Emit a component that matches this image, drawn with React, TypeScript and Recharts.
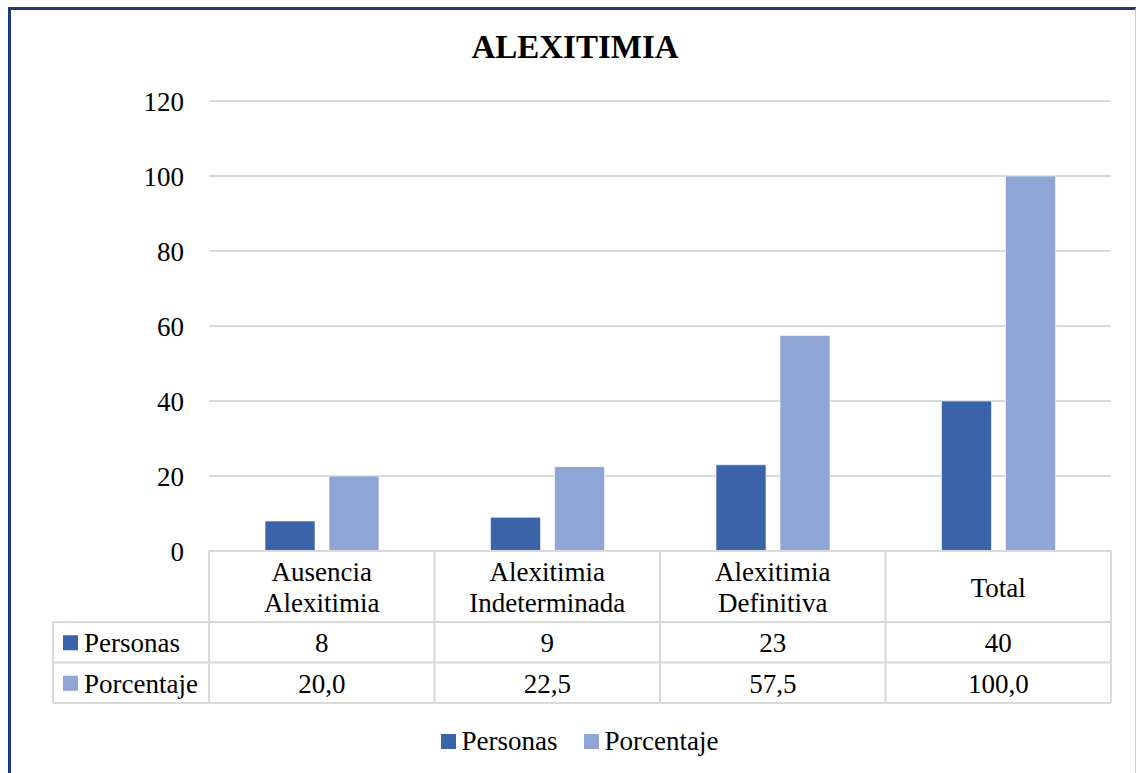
import React from 'react';
import { BarChart, Bar, XAxis, YAxis, CartesianGrid, Legend } from 'recharts';

const categories = ['Ausencia\nAlexitimia', 'Alexitimia\nIndeterminada', 'Alexitimia\nDefinitiva', 'Total'];
const personas = [8, 9, 23, 40];
const porcentaje = [20.0, 22.5, 57.5, 100.0];
const yTicks = [0, 20, 40, 60, 80, 100, 120];

const seriesNames = ['Personas', 'Porcentaje'];
const COLORS = ['#3A63AA', '#8FA5D5'];

const FONT = "'Times New Roman', 'Liberation Serif', Times, 'DejaVu Serif', serif";
const GRID = '#D9D9D9';

const W = 1139;
const H = 773;
const MARGIN = { top: 101, right: 28, left: 0, bottom: 17 };
const Y_AXIS_W = 209;

// data table under the plot: header row, then one row per series
const HEAD_H = 71;
const ROW_H = 40.5;
const KEY_COL_W = 156;

const fmtPct = (v: number) => v.toFixed(1).replace('.', ',');

const data = categories.map((name, i) => ({
  name,
  Personas: personas[i],
  Porcentaje: porcentaje[i],
}));

const rowValues = [personas.map((v) => String(v)), porcentaje.map(fmtPct)];

const TableTick = (props: any) => {
  const { x, y, payload } = props;
  const idx: number = payload.index ?? props.index ?? 0;
  const half: number =
    payload.offset || (W - MARGIN.right - MARGIN.left - Y_AXIS_W) / categories.length / 2;
  const left = x - half;
  const right = x + half;
  const lines = String(payload.value).split('\n');
  const headMid = y + HEAD_H / 2 + 1;
  const lineGap = 31;
  const txt = { fontFamily: FONT, fontSize: 27, fill: '#000' };

  return (
    <g>
      {/* header cell */}
      <line x1={left} y1={y} x2={right} y2={y} stroke={GRID} strokeWidth={2} />
      <line x1={right} y1={y} x2={right} y2={y + HEAD_H + ROW_H * 2} stroke={GRID} strokeWidth={2} />
      {idx === 0 && (
        <line x1={left} y1={y} x2={left} y2={y + HEAD_H + ROW_H * 2} stroke={GRID} strokeWidth={2} />
      )}
      {lines.map((ln, i) => (
        <text
          key={i}
          x={x}
          y={headMid + (i - (lines.length - 1) / 2) * lineGap}
          textAnchor="middle"
          dominantBaseline="central"
          {...txt}
        >
          {ln}
        </text>
      ))}
      {/* value rows */}
      {rowValues.map((vals, r) => {
        const top = y + HEAD_H + r * ROW_H;
        return (
          <g key={r}>
            <line x1={left} y1={top} x2={right} y2={top} stroke={GRID} strokeWidth={2} />
            <text x={x} y={top + ROW_H / 2 + 1} textAnchor="middle" dominantBaseline="central" {...txt}>
              {vals[idx]}
            </text>
          </g>
        );
      })}
      <line
        x1={idx === 0 ? left - KEY_COL_W : left}
        y1={y + HEAD_H + ROW_H * 2}
        x2={right}
        y2={y + HEAD_H + ROW_H * 2}
        stroke={GRID}
        strokeWidth={2}
      />
      {/* key column with series swatches */}
      {idx === 0 && (
        <g>
          <line x1={left - KEY_COL_W} y1={y + HEAD_H} x2={left} y2={y + HEAD_H} stroke={GRID} strokeWidth={2} />
          <line x1={left - KEY_COL_W} y1={y + HEAD_H + ROW_H} x2={left} y2={y + HEAD_H + ROW_H} stroke={GRID} strokeWidth={2} />
          <line
            x1={left - KEY_COL_W}
            y1={y + HEAD_H}
            x2={left - KEY_COL_W}
            y2={y + HEAD_H + ROW_H * 2}
            stroke={GRID}
            strokeWidth={2}
          />
          {seriesNames.map((s, r) => {
            const mid = y + HEAD_H + r * ROW_H + ROW_H / 2;
            return (
              <g key={s}>
                <rect x={left - KEY_COL_W + 10} y={mid - 7} width={15} height={15} fill={COLORS[r]} />
                <text x={left - KEY_COL_W + 31} y={mid + 1} dominantBaseline="central" {...txt}>
                  {s}
                </text>
              </g>
            );
          })}
        </g>
      )}
    </g>
  );
};

const LegendContent = () => (
  <div
    style={{
      display: 'flex',
      justifyContent: 'center',
      alignItems: 'center',
      height: 30,
      paddingLeft: 48,
      fontFamily: FONT,
      fontSize: 27,
      color: '#000',
    }}
  >
    {seriesNames.map((s, i) => (
      <div key={s} style={{ display: 'flex', alignItems: 'center', marginLeft: i ? 26 : 0 }}>
        <span style={{ width: 15, height: 15, background: COLORS[i], marginRight: 6, display: 'inline-block' }} />
        <span>{s}</span>
      </div>
    ))}
  </div>
);

export default function App() {
  return (
    <div style={{ position: 'absolute', left: 0, top: 0, width: W, height: H, overflow: 'hidden', background: '#fff' }}>
      <div
        style={{
          position: 'absolute',
          left: 8,
          top: 7,
          width: 1124,
          height: 800,
          borderLeft: '3px solid #1F3A78',
          borderTop: '3px solid #1F3A78',
          borderRight: '1px solid #C5CDE0',
        }}
      />
      <div
        style={{
          position: 'absolute',
          left: 0,
          top: 29,
          width: 1150,
          textAlign: 'center',
          fontFamily: FONT,
          fontWeight: 'bold',
          fontSize: 33,
          color: '#000',
        }}
      >
        ALEXITIMIA
      </div>
      <div style={{ position: 'absolute', left: 0, top: 0 }}>
        <BarChart width={W} height={H} data={data} margin={MARGIN} barSize={50} barGap={14}>
          <CartesianGrid horizontal vertical={false} stroke={GRID} strokeWidth={1.8} />
          <XAxis
            dataKey="name"
            axisLine={false}
            tickLine={false}
            tickSize={0}
            tickMargin={0}
            height={175}
            interval={0}
            tick={<TableTick />}
          />
          <YAxis
            width={Y_AXIS_W}
            domain={[0, 120]}
            ticks={yTicks}
            axisLine={false}
            tickLine={false}
            tickSize={0}
            tickMargin={25}
            tick={{ fontFamily: FONT, fontSize: 27, fill: '#000' }}
          />
          <Legend verticalAlign="bottom" content={<LegendContent />} />
          {seriesNames.map((s, i) => (
            <Bar
              key={s}
              dataKey={s}
              fill={COLORS[i]}
              stroke="#ffffff"
              strokeOpacity={0.6}
              strokeWidth={1}
              isAnimationActive={false}
            />
          ))}
        </BarChart>
      </div>
    </div>
  );
}
